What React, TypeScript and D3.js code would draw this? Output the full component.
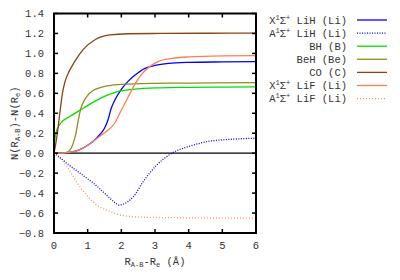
import * as d3 from 'd3'

// curves
const xLiHx = [0, 0.3, 0.5, 0.8, 1.0, 1.2, 1.37, 1.5, 1.6, 1.7, 1.82, 2.0, 2.2, 2.4, 2.7, 3.0, 3.4, 4.0, 5.0, 6.0]
const xLiHy = [0, 0.003, 0.01, 0.04, 0.08, 0.13, 0.19, 0.25, 0.33, 0.45, 0.54, 0.64, 0.72, 0.78, 0.85, 0.88, 0.9, 0.91, 0.915, 0.918]

const aLiHx = [0, 0.2, 0.38, 0.57, 0.77, 0.97, 1.17, 1.37, 1.56, 1.75, 1.95, 2.06, 2.36, 2.65, 3.05, 3.5, 4.04, 4.53, 5.3, 6.0]
const aLiHy = [0, -0.05, -0.1, -0.15, -0.2, -0.25, -0.3, -0.36, -0.42, -0.48, -0.52, -0.51, -0.435, -0.285, -0.12, 0.0, 0.07, 0.115, 0.14, 0.15]

const bhX = [0, 0.03, 0.08, 0.2, 0.48, 0.87, 1.37, 1.86, 2.35, 3.15, 4.0, 5.0, 6.0]
const bhY = [0, 0.15, 0.23, 0.3, 0.37, 0.45, 0.55, 0.615, 0.64, 0.655, 0.66, 0.663, 0.665]

const behX = [0, 0.2, 0.35, 0.47, 0.55, 0.64, 0.72, 0.8, 0.9, 1.0, 1.15, 1.35, 1.6, 2.0, 3.0, 4.0, 6.0]
const behY = [0, 0, 0.005, 0.03, 0.08, 0.18, 0.33, 0.45, 0.53, 0.58, 0.625, 0.655, 0.675, 0.69, 0.7, 0.703, 0.707]

const coX = [0, 0.05, 0.1, 0.18, 0.25, 0.33, 0.45, 0.6, 0.87, 1.23, 1.66, 2.2, 3.15, 4.5, 6.0]
const coY = [0, 0.09, 0.2, 0.42, 0.6, 0.72, 0.82, 0.91, 1.04, 1.14, 1.185, 1.197, 1.2, 1.202, 1.203]

const xLiFx = [0, 0.3, 0.5, 0.8, 1.0, 1.2, 1.4, 1.6, 1.8, 2.0, 2.2, 2.4, 2.6, 2.85, 3.1, 3.5, 4.0, 5.0, 6.0]
const xLiFy = [0, 0.003, 0.01, 0.04, 0.08, 0.13, 0.18, 0.23, 0.3, 0.43, 0.56, 0.69, 0.79, 0.87, 0.92, 0.95, 0.965, 0.975, 0.977]

const aLiFx = [0, 0.15, 0.38, 0.57, 0.77, 0.97, 1.27, 1.66, 2.16, 2.85, 4.0, 5.0, 6.0]
const aLiFy = [0, -0.04, -0.13, -0.235, -0.335, -0.42, -0.52, -0.585, -0.63, -0.643, -0.648, -0.65, -0.652]

const xTicks = [0, 1, 2, 3, 4, 5, 6]
const yTicks = [-0.8, -0.6, -0.4, -0.2, 0, 0.2, 0.4, 0.6, 0.8, 1.0, 1.2, 1.4]

type Series = {
  state: string
  mol: string
  xs: number[]
  ys: number[]
  color: string
  dash?: string
}

const series: Series[] = [
  { state: 'X', mol: 'LiH (Li)', xs: xLiHx, ys: xLiHy, color: '#0000ff' },
  { state: 'A', mol: 'LiH (Li)', xs: aLiHx, ys: aLiHy, color: '#0000ff', dash: '1,1.5' },
  { state: '', mol: 'BH (B)', xs: bhX, ys: bhY, color: '#00e000' },
  { state: '', mol: 'BeH (Be)', xs: behX, ys: behY, color: '#8f8f1c' },
  { state: '', mol: 'CO (C)', xs: coX, ys: coY, color: '#8b4513' },
  { state: 'X', mol: 'LiF (Li)', xs: xLiFx, ys: xLiFy, color: '#ff7f50' },
  { state: 'A', mol: 'LiF (Li)', xs: aLiFx, ys: aLiFy, color: '#ff8c5a', dash: '1,2' },
]

const FONT = '"Liberation Mono", "DejaVu Sans Mono", monospace'
const FS = 10.5

export default function App() {
  const width = 400
  const height = 280
  const left = 54
  const right = 256
  const top = 13.5
  const bottom = 233

  const x = d3.scaleLinear().domain([0, 6]).range([left, right])
  const y = d3.scaleLinear().domain([-0.8, 1.4]).range([bottom, top])

  const line = d3
    .line<[number, number]>()
    .x((d) => x(d[0]))
    .y((d) => y(d[1]))
    .curve(d3.curveMonotoneX)

  const tickLen = 4

  return (
    <svg
      width={width}
      height={height}
      style={{ position: 'absolute', left: 0, top: 0, background: '#fff' }}
      fontFamily={FONT}
    >
      <defs>
        <clipPath id="plot">
          <rect x={left} y={top} width={right - left} height={bottom - top} />
        </clipPath>
      </defs>

      {/* zero line */}
      <line x1={left} x2={right} y1={y(0)} y2={y(0)} stroke="#000" strokeWidth={1.3} />

      <g clipPath="url(#plot)">
        {series.map((s, i) => (
          <path
            key={i}
            d={line(s.xs.map((v, j) => [v, s.ys[j]] as [number, number])) || ''}
            fill="none"
            stroke={s.color}
            strokeWidth={1.3}
            strokeDasharray={s.dash}
          />
        ))}
      </g>

      {/* ticks */}
      {xTicks.map((t) => (
        <g key={'x' + t}>
          <line x1={x(t)} x2={x(t)} y1={bottom} y2={bottom - tickLen} stroke="#000" strokeWidth={1.5} />
          <line x1={x(t)} x2={x(t)} y1={top} y2={top + tickLen} stroke="#000" strokeWidth={1.5} />
          <text x={x(t)} y={249} fontSize={FS} textAnchor="middle" fill="#333">
            {t}
          </text>
        </g>
      ))}
      {yTicks.map((t) => (
        <g key={'y' + t}>
          <line x1={left} x2={left + tickLen} y1={y(t)} y2={y(t)} stroke="#000" strokeWidth={1.5} />
          <line x1={right} x2={right - tickLen} y1={y(t)} y2={y(t)} stroke="#000" strokeWidth={1.5} />
          <text x={44} y={y(t) + 3.5} fontSize={FS} textAnchor="end" fill="#333">
            {t.toFixed(1).replace('-', '\u2212')}
          </text>
        </g>
      ))}

      {/* frame */}
      <rect x={left} y={top} width={right - left} height={bottom - top} fill="none" stroke="#000" strokeWidth={2} />

      {/* axis labels */}
      <text x={155} y={265} fontSize={FS} textAnchor="middle" fill="#333">
        R<tspan fontSize={7} dy={2}>A-B</tspan>
        <tspan dy={-2}>-R</tspan>
        <tspan fontSize={7} dy={2}>e</tspan>
        <tspan dy={-2}> (Å)</tspan>
      </text>
      <text
        transform={`translate(18,${(top + bottom) / 2}) rotate(-90)`}
        fontSize={FS}
        textAnchor="middle"
        fill="#333"
      >
        N(R<tspan fontSize={7} dy={2}>A-B</tspan>
        <tspan dy={-2}>)-N(R</tspan>
        <tspan fontSize={7} dy={2}>e</tspan>
        <tspan dy={-2}>)</tspan>
      </text>

      {/* legend */}
      {series.map((s, i) => {
        const ly = 20 + i * 13.1
        return (
          <g key={'l' + i}>
            <text x={347} y={ly + 3.5} fontSize={FS} textAnchor="end" fill="#333">
              {s.state ? (
                <>
                  {s.state}
                  <tspan fontSize={7} dy={-4}>1</tspan>
                  <tspan dy={4}>Σ</tspan>
                  <tspan fontSize={7} dy={-4}>+</tspan>
                  <tspan dy={4}>{' ' + s.mol}</tspan>
                </>
              ) : (
                s.mol
              )}
            </text>
            <line
              x1={357}
              x2={387}
              y1={ly}
              y2={ly}
              stroke={s.color}
              strokeWidth={1.3}
              strokeDasharray={s.dash}
            />
          </g>
        )
      })}
    </svg>
  )
}
